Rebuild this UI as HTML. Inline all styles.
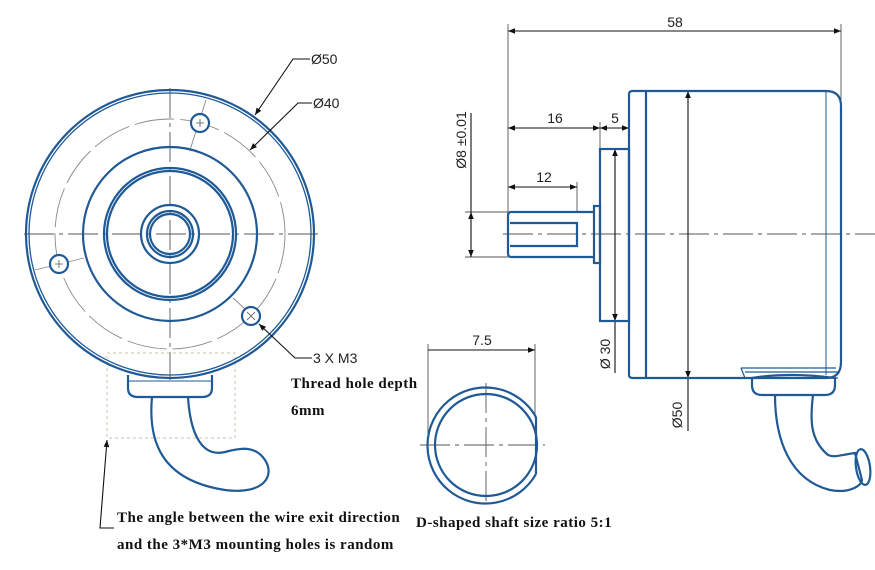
<!DOCTYPE html>
<html><head><meta charset="utf-8"><style>
html,body{margin:0;padding:0;background:#fff}
svg{display:block}
.s{font-family:"Liberation Sans",sans-serif;font-size:14px;fill:#222}
.t{font-family:"Liberation Serif",serif;font-size:15px;font-weight:bold;fill:#111;letter-spacing:0.5px}
</style></head><body>
<svg width="875" height="570" viewBox="0 0 875 570" xmlns="http://www.w3.org/2000/svg">
<defs>
<marker id="a" viewBox="0 0 10 10" refX="10" refY="5" markerWidth="10" markerHeight="7" orient="auto-start-reverse" markerUnits="userSpaceOnUse"><path d="M0,1 L10,5 L0,9 z" fill="#111"/></marker>
</defs>
<g fill="none" stroke="#555" stroke-width="0.9">
<line x1="24" y1="234" x2="318" y2="234" stroke-dasharray="30,5,4,5"/>
<line x1="170" y1="88" x2="170" y2="380" stroke-dasharray="30,5,4,5"/>
<circle cx="170" cy="234" r="115" stroke="#888" stroke-dasharray="40,6"/>
<line x1="206" y1="100" x2="190" y2="150" stroke="#888"/>
<line x1="35" y1="270" x2="84" y2="258" stroke="#888"/>
<line x1="233" y1="298" x2="255" y2="318" stroke="#888"/>
<rect x="107" y="353" width="128" height="85" stroke="#cbbfa8" stroke-dasharray="3,3"/>
</g>
<g fill="none" stroke="#1f5a96" stroke-width="2.2">
<circle cx="170" cy="234" r="144"/>
<circle cx="170" cy="234" r="141" stroke-width="1.3"/>
<circle cx="170" cy="234" r="87"/>
<circle cx="170" cy="234" r="66"/>
<circle cx="170" cy="234" r="63"/>
<circle cx="170" cy="234" r="29"/>
<circle cx="170" cy="234" r="23"/>
<circle cx="170" cy="234" r="20"/>
<circle cx="200" cy="123" r="9" fill="#fff"/>
<circle cx="59" cy="264" r="9" fill="#fff"/>
<circle cx="251" cy="316" r="9" fill="#fff"/>
<path d="M128,375 L128,388 Q128,397 138,397 L202,397 Q212,397 212,388 L212,375"/>
<line x1="128" y1="381" x2="212" y2="381" stroke-width="1"/>
<path d="M152,397 C148,440 160,480 225,490 C265,495 275,475 265,460 C255,445 240,448 225,452 C200,458 190,430 188,397"/>
</g>
<g stroke="#555" stroke-width="0.8">
<path d="M196,123h8M200,119v8M55,264h8M59,260v8M247,312l8,8M255,312l-8,8"/>
</g>
<g fill="none" stroke="#111" stroke-width="1.1">
<path d="M310,59 L293,59 L255,115" marker-end="url(#a)"/>
<path d="M312,103 L298,103 L250,150" marker-end="url(#a)"/>
<path d="M312,358 L295,358 L259,324" marker-end="url(#a)"/>
<path d="M114,528 L100,528 L107,440" marker-end="url(#a)"/>
</g>
<text class="s" x="311" y="64">Ø50</text>
<text class="s" x="313" y="108">Ø40</text>
<text class="s" x="313" y="363">3 X M3</text>
<text class="t" x="291" y="388">Thread hole depth</text>
<text class="t" x="291" y="415">6mm</text>
<text class="t" x="117" y="522">The angle between the wire exit direction</text>
<text class="t" x="117" y="549">and the 3*M3 mounting holes is random</text>
<text class="t" x="416" y="527">D-shaped shaft size ratio 5:1</text>

<g fill="none" stroke="#555" stroke-width="0.9">
<line x1="503" y1="234" x2="875" y2="234" stroke-dasharray="30,5,4,5"/>
<line x1="508" y1="24" x2="508" y2="212"/>
<line x1="841" y1="24" x2="841" y2="100"/>
<line x1="465" y1="212" x2="508" y2="212"/>
<line x1="465" y1="257" x2="508" y2="257"/>
<line x1="577" y1="182" x2="577" y2="212"/>
<line x1="600" y1="122" x2="600" y2="149"/>
<line x1="629" y1="122" x2="629" y2="149"/>
<line x1="420" y1="445" x2="545" y2="445" stroke-dasharray="30,5,4,5"/>
<line x1="486" y1="383" x2="486" y2="505" stroke-dasharray="30,5,4,5"/>
<line x1="428" y1="344" x2="428" y2="440"/>
<line x1="535" y1="344" x2="535" y2="418"/>
</g>
<g fill="none" stroke="#111" stroke-width="1.1">
<line x1="508" y1="31" x2="841" y2="31" marker-start="url(#a)" marker-end="url(#a)"/>
<line x1="508" y1="128" x2="600" y2="128" marker-start="url(#a)" marker-end="url(#a)"/>
<line x1="600" y1="128" x2="629" y2="128" marker-start="url(#a)" marker-end="url(#a)"/>
<line x1="508" y1="187" x2="577" y2="187" marker-start="url(#a)" marker-end="url(#a)"/>
<line x1="471" y1="113" x2="471" y2="212"/>
<line x1="471" y1="212" x2="471" y2="257" marker-start="url(#a)" marker-end="url(#a)"/>
<line x1="615" y1="149" x2="615" y2="321" marker-start="url(#a)" marker-end="url(#a)"/>
<line x1="615" y1="321" x2="615" y2="373"/>
<line x1="688" y1="91" x2="688" y2="378" marker-start="url(#a)" marker-end="url(#a)"/>
<line x1="688" y1="378" x2="688" y2="431"/>
<line x1="428" y1="350" x2="535" y2="350" marker-end="url(#a)"/>
</g>
<text class="s" x="675" y="27" text-anchor="middle">58</text>
<text class="s" x="555" y="123" text-anchor="middle">16</text>
<text class="s" x="615" y="123" text-anchor="middle">5</text>
<text class="s" x="544" y="182" text-anchor="middle">12</text>
<text class="s" x="482" y="345" text-anchor="middle">7.5</text>
<text class="s" transform="translate(466,140) rotate(-90)" text-anchor="middle">Ø8  ±0.01</text>
<text class="s" transform="translate(610,354) rotate(-90)" text-anchor="middle">Ø  30</text>
<text class="s" transform="translate(682,415) rotate(-90)" text-anchor="middle">Ø50</text>

<g fill="none" stroke="#1f5a96" stroke-width="2.2">
<path d="M629,94 Q629,91 633,91 L826,91 Q841,91 841,106 L841,362 Q841,378 826,378 L633,378 Q629,378 629,375 Z"/>
<line x1="646" y1="91" x2="646" y2="378"/>
<line x1="826" y1="91" x2="826" y2="375" stroke-width="1"/>
<rect x="600" y="149" width="29" height="172"/>
<rect x="594" y="206" width="6" height="57"/>
<path d="M594,212 L511,212 Q508,212 508,216 L508,253 Q508,257 511,257 L594,257"/>
<path d="M510,223 L577,223 L577,246 L510,246"/>
<path d="M741,368 L745,378 L838,378 M741,368 L836,368 M745,372 L838,372" stroke-width="1.2"/>
<path d="M752,378 Q790,372 835,378 L835,385 Q835,395 825,395 L762,395 Q752,395 752,385 Z"/>
<path d="M775,395 C775,440 790,480 830,490 C850,494 862,485 862,480 L855,453 C840,455 835,458 828,455 C810,440 810,420 813,395"/>
<ellipse cx="863" cy="467" rx="7" ry="18" transform="rotate(-8 863 467)"/>
<path d="M536,417 A58,58 0 1 0 536,474"/>
<line x1="536" y1="417" x2="536" y2="474"/>
<circle cx="486" cy="445" r="51"/>
</g>
</svg>
</body></html>
